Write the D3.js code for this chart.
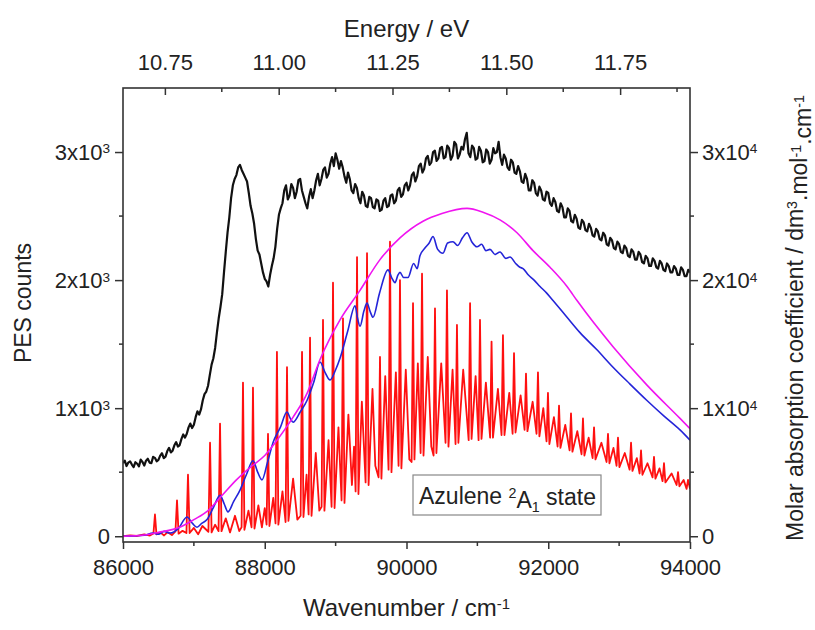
<!DOCTYPE html>
<html>
<head>
<meta charset="utf-8">
<script src="https://cdn.jsdelivr.net/npm/d3@7"></script>
<style>
  body { margin: 0; background: #fff; }
  text { font-family: Arial, "Liberation Sans", sans-serif; fill: #222; }
</style>
</head>
<body>
<svg id="chart" width="815" height="630"></svg>
<script>
// ---- data ----
const wnTicks = [86000, 88000, 90000, 92000, 94000];
const eVTicks = [10.75, 11.0, 11.25, 11.5, 11.75];
const pesTicks = [0, 1000, 2000, 3000];
const pesTickLabels = ["0", "1x10^3", "2x10^3", "3x10^3"];
const epsTicks = [0, 10000, 20000, 30000];
const epsTickLabels = ["0", "1x10^4", "2x10^4", "3x10^4"];

// PES counts, sampled every 25 cm-1 from 86000 to 94000
const pesCounts = [
  572, 590, 548, 575, 585, 560, 540, 578, 566, 545, 598, 580, 552, 590, 605, 575, 570, 620, 612, 585,
  596, 630, 648, 610, 622, 665, 690, 655, 668, 710, 735, 700, 712, 760, 795, 770, 800, 850, 880, 845,
  870, 930, 975, 950, 990, 1060, 1110, 1130, 1175, 1260, 1340, 1390, 1470, 1590, 1700, 1790, 1890, 2060, 2220, 2370,
  2490, 2640, 2740, 2790, 2820, 2880, 2900, 2860, 2830, 2800, 2770, 2680, 2580, 2520, 2440, 2320, 2230, 2200, 2130, 2060,
  2010, 1990, 1950, 2040, 2110, 2170, 2260, 2400, 2510, 2560, 2600, 2700, 2740, 2630, 2660, 2750, 2720, 2640, 2690, 2780,
  2790, 2700, 2650, 2600, 2560, 2650, 2710, 2640, 2700, 2780, 2830, 2740, 2790, 2860, 2880, 2800, 2830, 2910, 2960, 2890,
  2990, 2940, 2870, 2930, 2880, 2810, 2760, 2840, 2790, 2700, 2680, 2750, 2720, 2640, 2600, 2690, 2660, 2580, 2570, 2650,
  2640, 2570, 2560, 2630, 2620, 2540, 2550, 2620, 2640, 2570, 2580, 2660, 2670, 2600, 2620, 2700, 2720, 2650, 2670, 2740,
  2760, 2700, 2740, 2820, 2840, 2770, 2810, 2890, 2910, 2840, 2870, 2950, 2970, 2900, 2920, 3000, 3010, 2930, 2950, 3030,
  3040, 2950, 2960, 3050, 3030, 2940, 2970, 3080, 3060, 2950, 2980, 3040, 3020, 3100, 3150, 2990, 2960, 3050, 3030, 2940,
  2950, 3040, 3010, 2920, 2930, 3020, 3000, 2910, 2940, 3030, 2990, 3000, 3080, 2960, 2900, 2980, 2950, 2880, 2860, 2940,
  2920, 2840, 2830, 2890, 2850, 2770, 2760, 2830, 2790, 2700, 2700, 2780, 2760, 2680, 2660, 2730, 2700, 2630, 2620, 2690,
  2680, 2600, 2580, 2640, 2610, 2540, 2530, 2600, 2570, 2490, 2490, 2560, 2540, 2460, 2450, 2510, 2480, 2410, 2400, 2470,
  2450, 2390, 2380, 2440, 2410, 2350, 2340, 2400, 2380, 2320, 2310, 2370, 2350, 2280, 2270, 2330, 2310, 2250, 2240, 2300,
  2280, 2220, 2210, 2270, 2250, 2190, 2180, 2240, 2220, 2160, 2160, 2220, 2200, 2140, 2130, 2190, 2170, 2110, 2110, 2170,
  2150, 2100, 2090, 2150, 2130, 2080, 2070, 2130, 2110, 2060, 2060, 2110, 2090, 2040, 2040, 2100, 2080, 2030, 2030, 2080,
  2060
];
const pesWn = d3.range(86000, 94001, 25);

// simulated vibronic spectrum (red), [wavenumber, epsilon]
const redTrace = [
  [86000, 0], [86100, 60], [86200, 20], [86300, 140], [86380, 50], [86430, 220], [86451, 1700], [86472, 150],
  [86530, 280], [86580, 60], [86630, 320], [86690, 90], [86740, 380], [86762, 2800], [86784, 200],
  [86840, 420], [86895, 250], [86917, 4800], [86940, 250], [87000, 650], [87060, 150], [87120, 800],
  [87205, 350], [87228, 7300], [87250, 300], [87300, 900], [87348, 400], [87369, 8800], [87390, 400],
  [87450, 1400], [87510, 300], [87580, 1600], [87640, 400], [87673, 700], [87693, 12000], [87713, 500],
  [87770, 2000], [87814, 700], [87834, 11600], [87855, 600], [87910, 2400], [87960, 700], [88000, 2200],
  [88026, 900], [88046, 8000], [88066, 800], [88120, 3000], [88152, 1000], [88172, 14400], [88192, 900],
  [88250, 3500], [88294, 1100], [88314, 13200], [88334, 1200], [88400, 4500], [88460, 1300], [88506, 1600],
  [88526, 14400], [88546, 1500], [88590, 4800], [88619, 1700], [88639, 15500], [88660, 1600], [88720, 6500],
  [88770, 2000], [88802, 2300], [88822, 16900], [88842, 2000], [88900, 7500], [88943, 2300], [88963, 19800],
  [88985, 2200], [89040, 8500], [89084, 2800], [89104, 17000], [89125, 2600], [89180, 9500], [89230, 4000],
  [89260, 7000], [89282, 3500], [89302, 21800], [89322, 3300], [89370, 10500], [89423, 4200], [89443, 22100],
  [89465, 4000], [89520, 11500], [89560, 5500], [89606, 4600], [89626, 14000], [89646, 4500], [89700, 12500],
  [89747, 5200], [89767, 23000], [89788, 5000], [89850, 12800], [89888, 5500], [89908, 20000], [89928, 5300],
  [89990, 13000], [90040, 6000], [90072, 5800], [90092, 18200], [90112, 6000], [90160, 13500], [90199, 6500],
  [90219, 20500], [90240, 6300], [90300, 14000], [90350, 7000], [90382, 6300], [90402, 17800], [90422, 6500],
  [90490, 13500], [90551, 7300], [90571, 19200], [90592, 7000], [90650, 13000], [90692, 7200], [90712, 16500],
  [90732, 7300], [90800, 13000], [90877, 7500], [90897, 18200], [90918, 7600], [90975, 12500], [91017, 7500],
  [91037, 16900], [91058, 7600], [91120, 12000], [91180, 7700], [91200, 15200], [91220, 7700], [91290, 11500],
  [91341, 7900], [91361, 15700], [91382, 7900], [91450, 11200], [91497, 8000], [91517, 14300], [91538, 8100],
  [91610, 11000], [91666, 8300], [91686, 12700], [91706, 8200], [91780, 10500], [91835, 8000], [91855, 12800],
  [91875, 7800], [91930, 10000], [91976, 7400], [91996, 11200], [92016, 7200], [92080, 9300], [92132, 7000],
  [92152, 10200], [92172, 6900], [92240, 8700], [92301, 6700], [92321, 9600], [92341, 6600], [92410, 8200],
  [92470, 6400], [92490, 9200], [92510, 6300], [92570, 7700], [92626, 6100], [92646, 8500], [92666, 6000],
  [92750, 7300], [92823, 5800], [92843, 8000], [92863, 5700], [92920, 6900], [92964, 5500], [92984, 7700],
  [93004, 5400], [93080, 6500], [93148, 5200], [93168, 7300], [93188, 5100], [93250, 6100], [93289, 4900],
  [93309, 6700], [93329, 4800], [93400, 5700], [93472, 4600], [93492, 6200], [93512, 4500], [93570, 5300],
  [93613, 4300], [93633, 5700], [93653, 4200], [93740, 4900], [93811, 4000], [93831, 5000], [93851, 3900],
  [93910, 4400], [93952, 3700], [93972, 4400], [94000, 3700]
];

// measured absorption (blue)
const blueTrace = [
  [86000, 0], [86150, 30], [86300, 80], [86423, 250], [86500, 150], [86580, 380], [86663, 250], [86780, 600],
  [86903, 1500], [86980, 1000], [87044, 700], [87110, 1000], [87185, 1300], [87280, 2300], [87369, 3200],
  [87430, 2500], [87481, 1900], [87560, 2700], [87651, 3600], [87740, 4800], [87834, 5900], [87900, 5000],
  [87961, 4400], [88040, 5800], [88116, 7300], [88220, 8500], [88314, 9700], [88360, 9200], [88399, 8900],
  [88500, 9700], [88596, 10600], [88690, 12000], [88780, 13600], [88850, 12800], [88921, 12200], [89000, 13000],
  [89062, 13900], [89170, 16000], [89274, 18000], [89310, 17000], [89344, 16400], [89400, 17600], [89443, 18200],
  [89490, 17500], [89527, 17100], [89620, 19000], [89739, 20800], [89790, 20200], [89838, 19800], [89880, 20400],
  [89908, 20600], [89960, 20200], [90021, 20200], [90100, 21300], [90150, 20900], [90190, 21900], [90260, 22500],
  [90320, 22900], [90374, 23400], [90440, 22400], [90515, 22100], [90580, 22900], [90656, 23000], [90720, 22700],
  [90790, 23300], [90854, 23700], [90920, 23000], [90995, 22600], [91060, 22800], [91120, 22300], [91178, 22400],
  [91250, 22000], [91320, 22200], [91400, 21700], [91460, 21800], [91540, 21300], [91600, 21000], [91644, 20900],
  [91720, 20400], [91800, 20000], [91884, 19500], [91975, 19000], [92067, 18400], [92250, 17200], [92448, 15900],
  [92680, 14600], [92914, 13200], [93150, 11900], [93393, 10600], [93630, 9400], [93859, 8300], [94000, 7500]
];

// broadened simulation (magenta)
const magentaTrace = [
  [86000, 0], [86300, 100], [86500, 300], [86800, 700], [87000, 1300], [87200, 2000], [87400, 3200],
  [87600, 4400], [87800, 5400], [88000, 6300], [88200, 7700], [88400, 9300], [88600, 11200], [88780, 13800],
  [89062, 16900], [89344, 19200], [89626, 21600], [89908, 23300], [90233, 24600], [90500, 25200], [90854, 25600],
  [91079, 25300], [91319, 24700], [91559, 23700], [91785, 22300], [92025, 21000], [92265, 19500], [92406, 18400],
  [92914, 14800], [93393, 11800], [93859, 9200], [94000, 8400]
];

// ---- layout ----
const svg = d3.select("#chart");
const margin = { top: 88, right: 125, bottom: 88, left: 123 };
const W = 815, H = 630;
const x0 = margin.left, x1 = W - margin.right;
const y0 = H - margin.bottom, y1 = margin.top;

const xScale = d3.scaleLinear().domain([86000, 94000]).range([x0, x1]);
const eScale = d3.scaleLinear().domain([10.658, 11.9035]).range([x0, x1]);
const yPes = d3.scaleLinear().domain([-45, 3500]).range([y0, y1]);
const yEps = d3.scaleLinear().domain([-450, 35000]).range([y0, y1]);

const axisColor = "#333";

function richText(sel, str) {
  const parts = str.split("^");
  sel.text(null);
  sel.append("tspan").text(parts[0]);
  if (parts[1]) sel.append("tspan").attr("dy", "-0.45em").attr("font-size", "0.62em").text(parts[1]);
}

function styleAxis(g) {
  g.select(".domain").remove();
  g.selectAll(".tick line").attr("stroke", axisColor).attr("stroke-width", 1.5);
  g.selectAll("text").style("font-size", "22px").attr("fill", "#222");
}

// minor ticks
const minorGroup = svg.append("g");
function minor(values, fn) {
  values.forEach(v => {
    const [a, b, c, d] = fn(v);
    minorGroup.append("line").attr("x1", a).attr("y1", b).attr("x2", c).attr("y2", d)
      .attr("stroke", axisColor).attr("stroke-width", 1.5);
  });
}
minor([87000, 89000, 91000, 93000], v => [xScale(v), y0, xScale(v), y0 + 4]);
minor([10.875, 11.125, 11.375, 11.625, 11.875], v => [eScale(v), y1, eScale(v), y1 + 4]);
minor([500, 1500, 2500], v => [x0, yPes(v), x0 - 4, yPes(v)]);
minor([5000, 15000, 25000], v => [x1, yEps(v), x1 + 4, yEps(v)]);

// bottom axis
svg.append("g")
  .attr("transform", `translate(0,${y0})`)
  .call(d3.axisBottom(xScale).tickValues(wnTicks).tickFormat(d3.format("d")).tickSizeInner(7).tickSizeOuter(0).tickPadding(10))
  .call(styleAxis);

// top axis (ticks point inward)
svg.append("g")
  .attr("transform", `translate(0,${y1})`)
  .call(d3.axisTop(eScale).tickValues(eVTicks).tickFormat(d3.format(".2f")).tickSizeInner(-7).tickSizeOuter(0).tickPadding(18))
  .call(styleAxis);

// left axis
svg.append("g")
  .attr("transform", `translate(${x0},0)`)
  .call(d3.axisLeft(yPes).tickValues(pesTicks).tickSizeInner(8).tickSizeOuter(0).tickPadding(5))
  .call(styleAxis)
  .selectAll(".tick text").each(function (d, i) { richText(d3.select(this), pesTickLabels[i]); });

// right axis
svg.append("g")
  .attr("transform", `translate(${x1},0)`)
  .call(d3.axisRight(yEps).tickValues(epsTicks).tickSizeInner(8).tickSizeOuter(0).tickPadding(4))
  .call(styleAxis)
  .selectAll(".tick text").each(function (d, i) { richText(d3.select(this), epsTickLabels[i]); });

// traces
const plot = svg.append("g");
plot.append("defs").append("clipPath").attr("id", "clip")
  .append("rect").attr("x", x0).attr("y", y1).attr("width", x1 - x0).attr("height", y0 - y1);
const traces = plot.append("g").attr("clip-path", "url(#clip)");

const pesLine = d3.line().x((d, i) => xScale(pesWn[i])).y(d => yPes(d));
const epsLine = d3.line().x(d => xScale(d[0])).y(d => yEps(d[1]));

traces.append("path").datum(pesCounts).attr("d", pesLine)
  .attr("fill", "none").attr("stroke", "#111").attr("stroke-width", 2.2).attr("stroke-linejoin", "round");
traces.append("path").datum(redTrace).attr("d", epsLine)
  .attr("fill", "none").attr("stroke", "#ff1010").attr("stroke-width", 1.8).attr("stroke-linejoin", "round");
traces.append("path").datum(blueTrace).attr("d", epsLine.curve(d3.curveMonotoneX))
  .attr("fill", "none").attr("stroke", "#2424d8").attr("stroke-width", 1.6);
traces.append("path").datum(magentaTrace).attr("d", epsLine.curve(d3.curveMonotoneX))
  .attr("fill", "none").attr("stroke", "#f014f0").attr("stroke-width", 1.6);

// frame
svg.append("rect").attr("x", x0).attr("y", y1).attr("width", x1 - x0).attr("height", y0 - y1)
  .attr("fill", "none").attr("stroke", axisColor).attr("stroke-width", 1.6);

// legend box
const lg = svg.append("g");
lg.append("rect").attr("x", 413).attr("y", 475).attr("width", 188).attr("height", 40)
  .attr("fill", "#fff").attr("stroke", "#888").attr("stroke-width", 1.2);
const lt = lg.append("text").attr("x", 419).attr("y", 504).style("font-size", "23px");
lt.append("tspan").text("Azulene ");
lt.append("tspan").attr("dy", "-0.45em").attr("font-size", "0.62em").text("2");
lt.append("tspan").attr("dy", "0.45em").text("A");
lt.append("tspan").attr("dy", "0.3em").attr("font-size", "0.62em").text("1");
lt.append("tspan").attr("dy", "-0.3em").text(" state");

// axis titles
svg.append("text").attr("x", (x0 + x1) / 2).attr("y", 37).attr("text-anchor", "middle")
  .style("font-size", "24px").text("Energy / eV");

const xt = svg.append("text").attr("x", (x0 + x1) / 2).attr("y", 616).attr("text-anchor", "middle")
  .style("font-size", "24px");
xt.append("tspan").text("Wavenumber / cm");
xt.append("tspan").attr("dy", "-0.45em").attr("font-size", "0.62em").text("-1");

svg.append("text").attr("transform", "translate(31,303) rotate(-90)").attr("text-anchor", "middle")
  .style("font-size", "23px").text("PES counts");

const rt = svg.append("text").attr("transform", "translate(803,318) rotate(-90)").attr("text-anchor", "middle")
  .style("font-size", "23px");
rt.append("tspan").text("Molar absorption coefficient / dm");
rt.append("tspan").attr("dy", "-0.45em").attr("font-size", "0.62em").text("3");
rt.append("tspan").attr("dy", "0.45em").text(".mol");
rt.append("tspan").attr("dy", "-0.45em").attr("font-size", "0.62em").text("-1");
rt.append("tspan").attr("dy", "0.45em").text(".cm");
rt.append("tspan").attr("dy", "-0.45em").attr("font-size", "0.62em").text("-1");
</script>
</body>
</html>
